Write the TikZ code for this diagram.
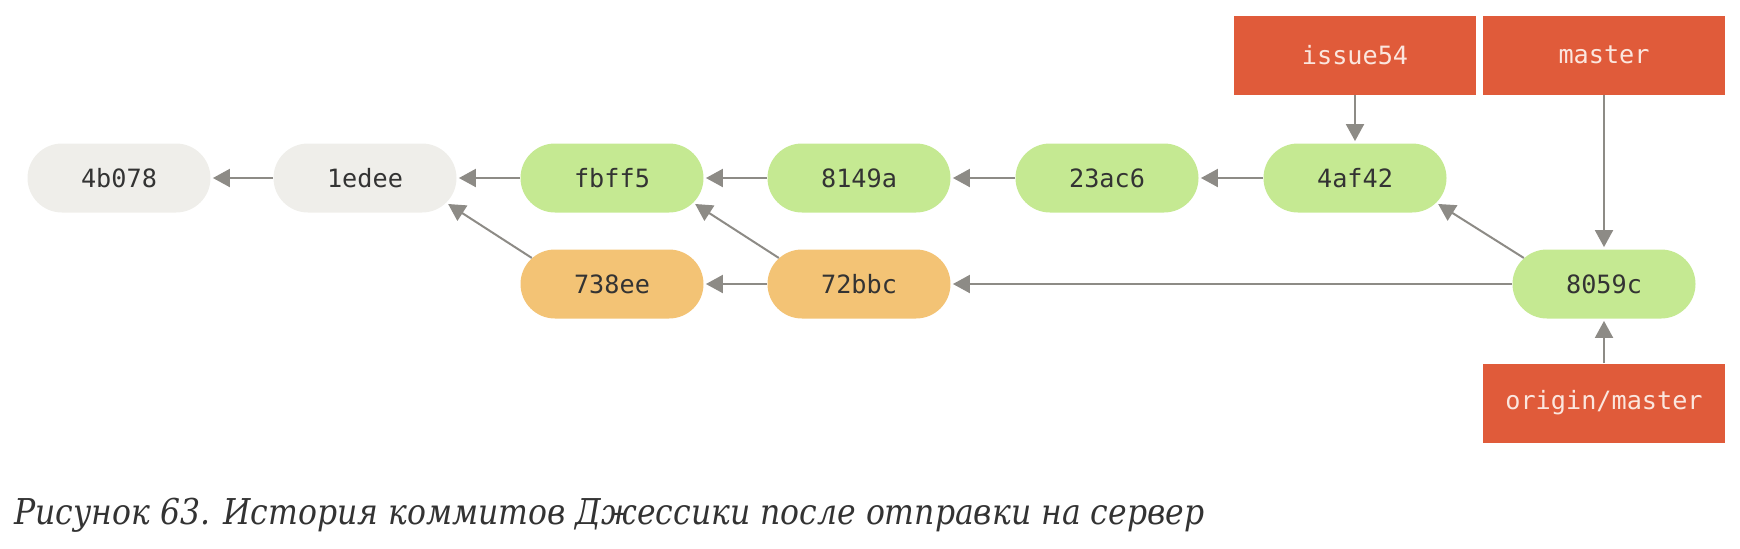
\documentclass[tikz,border=0pt]{standalone}
\usepackage{fontspec}
\usepackage{graphicx}
\setmainfont{DejaVu Serif}
\newfontfamily\monof{DejaVu Sans Mono}
\newfontfamily\capf{DejaVu Serif}
\usetikzlibrary{shapes.misc,arrows.meta}
\definecolor{cgray}{HTML}{EFEEEA}
\definecolor{cgreen}{HTML}{C5E992}
\definecolor{corange}{HTML}{F3C375}
\definecolor{cred}{HTML}{E05B3A}
\definecolor{carrow}{HTML}{8D8B86}
\definecolor{ctext}{HTML}{333333}
\definecolor{creftext}{HTML}{FBE6DE}
\begin{document}
\begin{tikzpicture}[x=0.5pt,y=-0.5pt,
  commit/.style={rounded rectangle, minimum width=91.5pt, minimum height=34.5pt, inner sep=0pt, font=\monof\fontsize{12.6}{14}\selectfont, text=ctext},
  oldc/.style={commit, fill=cgray},
  newc/.style={commit, fill=cgreen},
  sidec/.style={commit, fill=corange},
  refbox/.style={rectangle, fill=cred, minimum width=121pt, minimum height=39.5pt, inner sep=0pt, font=\monof\fontsize{12.6}{14}\selectfont, text=creftext},
  link/.style={draw=carrow, line width=1pt, -{Triangle[length=8.5pt,width=9pt]}, shorten >=1pt}]
\useasboundingbox (0,0) rectangle (1740,548);
\node[oldc] (c4b078) at (119,178) {4b078};
\node[oldc] (c1edee) at (365,178) {1edee};
\node[newc] (cfbff5) at (612,178) {fbff5};
\node[newc] (c8149a) at (859,178) {8149a};
\node[newc] (c23ac6) at (1107,178) {23ac6};
\node[newc] (c4af42) at (1355,178) {4af42};
\node[sidec] (c738ee) at (612,284) {738ee};
\node[sidec] (c72bbc) at (859,284) {72bbc};
\node[newc] (c8059c) at (1604,284) {8059c};
\node[refbox] (issue) at (1355,55) {issue54};
\node[refbox] (master) at (1604,55) {master};
\node[refbox] (origin) at (1604,403) {origin/master};
\draw[link] (c1edee.west) -- (c4b078.east);
\draw[link] (cfbff5.west) -- (c1edee.east);
\draw[link] (c8149a.west) -- (cfbff5.east);
\draw[link] (c23ac6.west) -- (c8149a.east);
\draw[link] (c4af42.west) -- (c23ac6.east);
\draw[link] (c72bbc.west) -- (c738ee.east);
\draw[link] (c8059c.west) -- (c72bbc.east);
\draw[link] (c738ee.162) -- (c1edee.-17);
\draw[link] (c72bbc.162) -- (cfbff5.-17);
\draw[link] (c8059c.162) -- (c4af42.-17);
\draw[link] (issue.south) -- (c4af42.north);
\draw[link] (master.south) -- (c8059c.north);
\draw[link] (origin.north) -- (c8059c.south);
\node[anchor=base west, inner sep=0pt, text=ctext] (caption) at (14,524) {\scalebox{1}[1.13]{\resizebox{595pt}{!}{\capf\itshape Рисунок 63. История коммитов Джессики после отправки на сервер}}};
\end{tikzpicture}
\end{document}
